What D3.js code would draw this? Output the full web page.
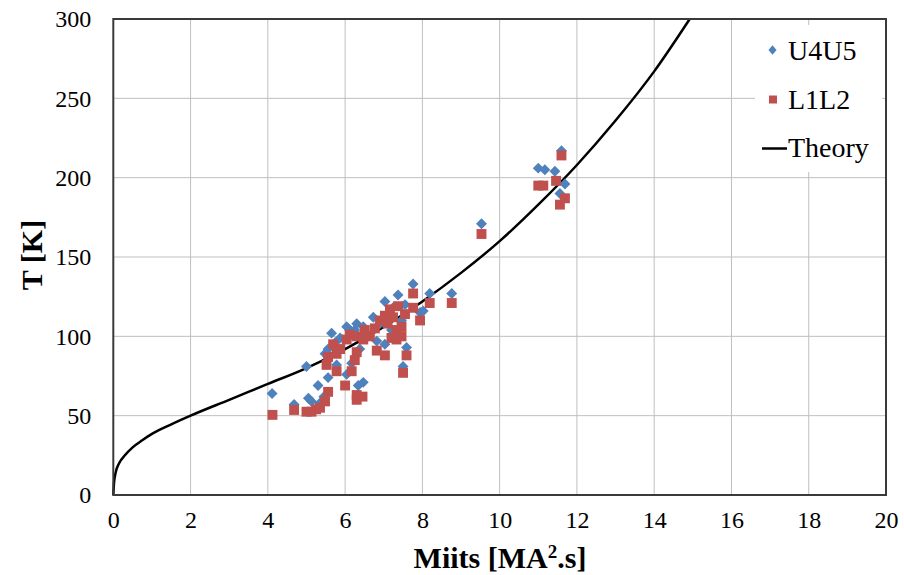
<!DOCTYPE html>
<html>
<head>
<meta charset="utf-8">
<script src="https://cdn.jsdelivr.net/npm/d3@7"></script>
<style>
  body { margin: 0; background: #fff; }
  text { font-family: "Liberation Serif", "Times New Roman", serif; }
</style>
</head>
<body>
<svg width="904" height="575"></svg>
<script>
// U4U5 measurements [Miits, T]
var u4u5 = [
  [4.11,64],[4.68,57],[5.0,81],[5.05,61],[5.13,59],[5.3,69],[5.35,58],[5.45,62],
  [5.56,74],[5.48,89],[5.56,92],[5.65,102],[5.78,82],[5.74,96],[5.87,99],[6.04,76],
  [6.04,106],[6.12,104],[6.17,83],[6.25,104],[6.3,108],[6.34,69],[6.47,71],[6.47,106],
  [6.38,92],[6.55,102],[6.73,112],[6.82,97],[6.9,108],[7.03,95],[7.03,122],[7.1,114],
  [7.2,104],[7.24,118],[7.37,126],[7.5,81],[7.59,93],[7.46,110],[7.55,120],[7.76,133],
  [7.94,115],[8.02,116],[8.19,127],[8.76,127],[9.53,171],[11.0,206],[11.17,205],
  [11.43,204],[11.6,217],[11.69,196],[11.56,190]
];

// L1L2 measurements [Miits, T]
var l1l2 = [
  [4.12,50.5],[4.68,53.6],[5.0,52.5],[5.13,52.5],[5.25,54],[5.35,55],[5.48,59],[5.56,65],
  [5.52,82],[5.56,87],[5.69,95],[5.78,78],[5.78,89],[5.87,92],[6.0,69],[6.04,98],
  [6.12,101],[6.17,78],[6.25,85],[6.3,63],[6.3,60],[6.3,90],[6.3,100],[6.45,62],
  [6.47,98],[6.51,104],[6.64,100],[6.77,105],[6.82,91],[6.9,110],[7.03,88],[7.03,113],
  [7.1,108],[7.16,117],[7.2,99],[7.24,112],[7.33,98],[7.33,104],[7.37,119],[7.46,106],
  [7.46,100],[7.5,77],[7.59,88],[7.55,114],[7.76,127],[7.76,118],[7.94,110],[8.19,121],
  [8.76,121],[9.53,164.5],[11.0,195],[11.13,195],[11.46,198],[11.6,214],[11.69,187],
  [11.56,183]
];

// Theory curve
var theoryX = [0, 0.02, 0.06, 0.15, 0.3, 0.5, 0.75, 1, 1.5, 2, 3, 4, 5, 6, 7, 8, 9, 10, 11, 12, 13, 14, 14.92];
var theoryT = [0, 8, 14, 20, 25, 30, 34.5, 38.5, 44.5, 50, 60, 70, 80, 92, 106, 122, 140, 160, 183, 208, 236, 267, 300];

var xTicks = [0, 2, 4, 6, 8, 10, 12, 14, 16, 18, 20];
var yTicks = [0, 50, 100, 150, 200, 250, 300];

var svg = d3.select("svg");

var x = d3.scaleLinear().domain([0, 20]).range([113.3, 886]);
var y = d3.scaleLinear().domain([0, 300]).range([495, 19]);

// Grid lines
svg.append("g")
  .selectAll("line.vgrid")
  .data(xTicks.slice(1, -1))
  .enter().append("line")
    .attr("x1", function(d) { return x(d); })
    .attr("x2", function(d) { return x(d); })
    .attr("y1", y(0))
    .attr("y2", y(300))
    .attr("stroke", "#bfbfbf")
    .attr("stroke-width", 1);

svg.append("g")
  .selectAll("line.hgrid")
  .data(yTicks.slice(1, -1))
  .enter().append("line")
    .attr("x1", x(0))
    .attr("x2", x(20))
    .attr("y1", function(d) { return y(d); })
    .attr("y2", function(d) { return y(d); })
    .attr("stroke", "#bfbfbf")
    .attr("stroke-width", 1);

// Axes (labels only, ticks hidden)
var xAxis = svg.append("g")
  .attr("transform", "translate(0," + y(0) + ")")
  .call(d3.axisBottom(x).tickValues(xTicks).tickSize(0).tickPadding(16));
var yAxis = svg.append("g")
  .attr("transform", "translate(" + x(0) + ",0)")
  .call(d3.axisLeft(y).tickValues(yTicks).tickSize(0).tickPadding(22));

[xAxis, yAxis].forEach(function(a) {
  a.select(".domain").remove();
  a.selectAll("text")
    .style("font-family", "'Liberation Serif', 'Times New Roman', serif")
    .style("font-size", "24px")
    .attr("fill", "#000");
});

// Legend background box (covers grid)
svg.append("rect")
  .attr("x", 755)
  .attr("y", 25)
  .attr("width", 127)
  .attr("height", 147)
  .attr("fill", "#fff");

// Theory line
var line = d3.line()
  .x(function(d) { return x(d[0]); })
  .y(function(d) { return y(d[1]); })
  .curve(d3.curveMonotoneX);

var theory = theoryX.map(function(d, i) { return [d, theoryT[i]]; });

svg.append("path")
  .datum(theory)
  .attr("d", line)
  .attr("fill", "none")
  .attr("stroke", "#000")
  .attr("stroke-width", 2.5);

// Series markers
var diamond = d3.symbol().type(d3.symbolDiamond2).size(76);
var square = d3.symbol().type(d3.symbolSquare).size(98);

svg.append("g")
  .selectAll("path")
  .data(u4u5)
  .enter().append("path")
    .attr("d", diamond)
    .attr("transform", function(d) { return "translate(" + x(d[0]) + "," + y(d[1]) + ")"; })
    .attr("fill", "#4f81bd");

svg.append("g")
  .selectAll("path")
  .data(l1l2)
  .enter().append("path")
    .attr("d", square)
    .attr("transform", function(d) { return "translate(" + x(d[0]) + "," + y(d[1]) + ")"; })
    .attr("fill", "#c0504d");

// Plot frame
svg.append("rect")
  .attr("x", x(0))
  .attr("y", y(300))
  .attr("width", x(20) - x(0))
  .attr("height", y(0) - y(300))
  .attr("fill", "none")
  .attr("stroke", "#3a3a3a")
  .attr("stroke-width", 2);

// Legend
var legend = svg.append("g");
legend.append("path")
  .attr("d", d3.symbol().type(d3.symbolDiamond2).size(42))
  .attr("transform", "translate(772.5,50) scale(1,1.15)")
  .attr("fill", "#4f81bd");
legend.append("path")
  .attr("d", d3.symbol().type(d3.symbolSquare).size(64))
  .attr("transform", "translate(773,99.5)")
  .attr("fill", "#c0504d");
legend.append("line")
  .attr("x1", 762).attr("x2", 787)
  .attr("y1", 148.5).attr("y2", 148.5)
  .attr("stroke", "#000")
  .attr("stroke-width", 2.5);

legend.selectAll("text")
  .data(["U4U5", "L1L2", "Theory"])
  .enter().append("text")
    .attr("x", 788)
    .attr("y", function(d, i) { return [60, 109, 157][i]; })
    .style("font-size", "28px")
    .text(function(d) { return d; });

// Axis titles
svg.append("text")
  .attr("x", 500)
  .attr("y", 568)
  .attr("text-anchor", "middle")
  .style("font-size", "30px")
  .style("font-weight", "bold")
  .html("Miits [MA<tspan baseline-shift='super' font-size='19px'>2</tspan>.s]");

svg.append("text")
  .attr("transform", "translate(42,255) rotate(-90)")
  .attr("text-anchor", "middle")
  .style("font-size", "30px")
  .style("font-weight", "bold")
  .text("T [K]");
</script>
</body>
</html>
